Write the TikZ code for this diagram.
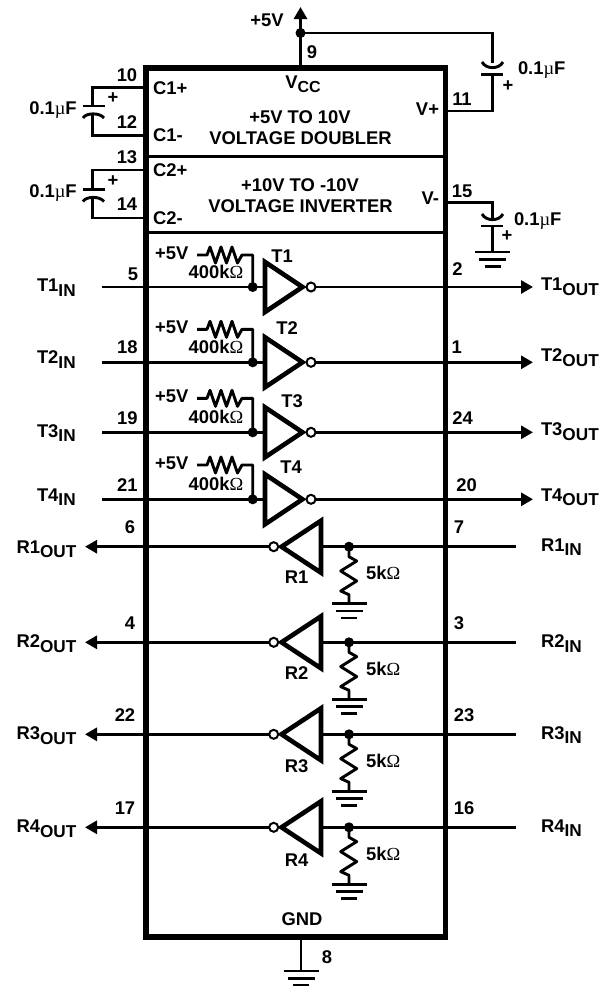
\documentclass[tikz,border=0pt]{standalone}
\usepackage{fontspec}
\setmainfont{Liberation Sans}[BoldFont={Liberation Sans Bold}]
\newfontfamily\symf{Liberation Serif}
\usetikzlibrary{arrows.meta,calc}
\newcommand{\uF}{{\symf\fontseries{m}\selectfont µ}F}
\newcommand{\Ohm}{{\symf\fontseries{m}\selectfont Ω}}
\newcommand{\subtxt}[2]{#1\raisebox{-4.5pt}{\fontsize{17.2}{18}\selectfont\bfseries #2}}
\tikzset{
  x=1pt,y=-1pt,
  every node/.style={inner sep=0pt,outer sep=0pt,font=\fontsize{18.4}{19}\selectfont\bfseries,text=black},
  wire/.style={line width=2.9pt,draw=black,line join=miter},
  chip/.style={line width=5.4pt,draw=black},
  divider/.style={line width=3pt,draw=black},
  gate/.style={line width=4.6pt,draw=black,line join=miter},
  bubble/.style={circle,draw=black,fill=white,line width=2pt,minimum size=9pt},
  dotj/.style={circle,fill=black,minimum size=10pt},
  lft/.style={anchor=west},
  rgt/.style={anchor=east},
  arrowhead/.style={-{Triangle[length=12pt,width=13pt]}},
}
% ground symbol under a named coordinate
\newcommand{\gndat}[1]{%
  \draw[wire] ($(#1)+(-17.5,0)$) -- ($(#1)+(17.5,0)$);
  \draw[wire] ($(#1)+(-13.5,7.3)$) -- ($(#1)+(13.5,7.3)$);
  \draw[wire] ($(#1)+(-8,14.3)$) -- ($(#1)+(8,14.3)$);
}
\begin{document}
\begin{tikzpicture}
\useasboundingbox (0,0) rectangle (612,986);
% chip
\coordinate (chipTL) at (146,68);
\coordinate (chipBR) at (445.5,937);
\draw[chip] (chipTL) rectangle (chipBR);
\draw[divider] (146,156) coordinate (d1l) -- (445.5,156) coordinate (d1r);
\draw[divider] (146,232) coordinate (d2l) -- (445.5,232) coordinate (d2r);
% VCC
\node[dotj] (vccdot) at (300.5,33) {};
\coordinate (vcctop) at (300.5,7);
\coordinate (vccpin) at (300.5,68);
\draw[wire,arrowhead] (vccdot.center) -- (vcctop);
\draw[wire] (vccdot.center) -- (vccpin);
\node (vcclab) at (267,20) {+5V};
\node (pin9) at (312,52) {9};
\node (vcc) at (303,84) {V\raisebox{-4pt}{\fontsize{16}{16}\selectfont CC}};
\node (dbl1) at (300,117) {+5V TO 10V};
\node (dbl2) at (300.5,138) {VOLTAGE DOUBLER};
\node (inv1) at (300,185) {+10V TO -10V};
\node (inv2) at (300.5,206) {VOLTAGE INVERTER};
% Left caps
\foreach \ya/\yb/\yp/\yt/\na/\nb/\la/\lb/\tb in {87.5/135.5/106/98/10/12/C1+/C1-/122,170/218/189.5/181/13/14/C2+/C2-/204}{
  \coordinate (la) at (146,\ya);
  \coordinate (lb) at (146,\yb);
  \draw[wire] (la) -- (92.7,\ya) -- (92.7,\yp);
  \draw[wire] (83,\yp) -- (105,\yp);
  \draw[wire] (83,\yp+12) .. controls (86,\yp+6.5) and (100,\yp+6.5) .. (104,\yp+12);
  \draw[wire] (92.7,\yp+8) -- (92.7,\yb) -- (lb);
  \node at (113,\yt) {+};
  \node at (127,\ya-12.5) {\na};
  \node at (127,\tb) {\nb};
  \node[lft] at (153,\ya+.5) {\la};
  \node[lft] at (153,\yb) {\lb};
  \node at (53,\yp+4) {0.1\uF};
}
% V+ cap
\coordinate (vp) at (445.5,111);
\draw[wire] (vccdot.center) -- (492.5,33) -- (492.5,63);
\draw[wire] (482,62) .. controls (486,69.5) and (499,69.5) .. (503,62);
\draw[wire] (481,74.5) -- (503,74.5);
\draw[wire] (492.5,74.5) -- (492.5,111) -- (vp);
\node (vplab) [rgt] at (439,109) {V+};
\node at (462,99) {11};
\node[lft] at (518,70) {0.1\uF};
\node at (508,86) {+};
% V- cap
\coordinate (vm) at (445.5,202.5);
\coordinate (vmg) at (492.5,252);
\draw[wire] (vm) -- (492.5,202.5) -- (492.5,218);
\draw[wire] (482,214) .. controls (486,221.5) and (499,221.5) .. (503,214);
\draw[wire] (481,226) -- (503,226);
\draw[wire] (492.5,226) -- (vmg);
\gndat{vmg}
\node[rgt] at (439,198) {V-};
\node at (462,191) {15};
\node[lft] at (514,221) {0.1\uF};
\node at (507,236) {+};
% Transmitters
\foreach \y/\n/\pi/\po/\pix/\piy/\pox/\poy/\py/\tx/\ty/\iy/\oy in {
  287/1/5/2/133/-13/457.5/-17.7/-32/282/-31/0.7/-0.3,
  362.3/2/18/1/127.3/-15.6/456.7/-15.6/-33/287/-34/-2.8/-4.8,
  432.3/3/19/24/127.3/-14/462.7/-14/-34/292/-31.6/0.9/-0.4,
  499.3/4/21/20/127.3/-14.3/466.7/-14.3/-34.3/291/-32.6/-2/-2}{
  \coordinate (tin\n) at (102,\y);
  \coordinate (tout\n) at (533,\y);
  \node[dotj] (tj\n) at (252.7,\y) {};
  \draw[gate] (265,\y-25) -- (302.5,\y) -- (265,\y+25) -- cycle;
  \node[bubble] (tb\n) at (311,\y) {};
  \draw[wire] (tin\n) -- (tj\n.center) -- (265,\y);
  \draw[wire,arrowhead] (tb\n.east) -- (tout\n);
  \draw[wire,line join=round] (197,\y+\py) -- (207,\y+\py) -- (210,\y+\py-8) -- (215.5,\y+\py+8) -- (221,\y+\py-8) -- (226.5,\y+\py+8) -- (232,\y+\py-8) -- (237.5,\y+\py+8) -- (242,\y+\py) -- (252.7,\y+\py) -- (tj\n.center);
  \node at (171.7,\y+\py-2) {+5V};
  \node at (216,\y-15) {400k\Ohm};
  \node at (\tx,\y+\ty) {T\n};
  \node at (\pix,\y+\piy) {\pi};
  \node at (\pox,\y+\poy) {\po};
  \node[lft] at (37,\y+\iy) {\subtxt{T\n}{IN}};
  \node[lft] at (541,\y+\oy) {\subtxt{T\n}{OUT}};
}
% Receivers
\foreach \y/\n/\po/\pi/\pox/\pix/\oy/\iy/\ry in {
  546.7/1/6/7/130/459/2.7/0.5/30.5,
  642.3/2/4/3/130/459/1.2/1.5/30.7,
  734.3/3/22/23/125/464/1.2/0.9/31.4,
  827.3/4/17/16/125/464/1.6/0.9/32.7}{
  \coordinate (rout\n) at (85,\y);
  \coordinate (rin\n) at (516,\y);
  \coordinate (rg\n) at (349,\y+57);
  \node[dotj] (rj\n) at (349,\y) {};
  \draw[gate] (321,\y-26) -- (281.5,\y) -- (321,\y+26) -- cycle;
  \node[bubble] (rb\n) at (273.7,\y) {};
  \draw[wire,arrowhead] (rb\n.west) -- (rout\n);
  \draw[wire] (rin\n) -- (rj\n.center) -- (321,\y);
  \draw[wire,line join=round] (rj\n.center) -- (349,\y+10) -- (356.7,\y+14.3) -- (340.7,\y+24.3) -- (356.7,\y+34.3) -- (340.7,\y+44.3) -- (349,\y+48) -- (rg\n);
  \gndat{rg\n}
  \node at (296.7,\y+\ry) {R\n};
  \node at (383.3,\y+26.5) {5k\Ohm};
  \node at (\pox,\y-19.2) {\po};
  \node at (\pix,\y-19.2) {\pi};
  \node[lft] at (16.5,\y+\oy) {\subtxt{R\n}{OUT}};
  \node[lft] at (541,\y+\iy) {\subtxt{R\n}{IN}};
}
% GND
\coordinate (gndpin) at (301,937);
\coordinate (gndsym) at (301,971);
\draw[wire] (gndpin) -- (gndsym);
\gndat{gndsym}
\node (gnd) at (302,919) {GND};
\node (pin8) at (327,957) {8};
\end{tikzpicture}
\end{document}
